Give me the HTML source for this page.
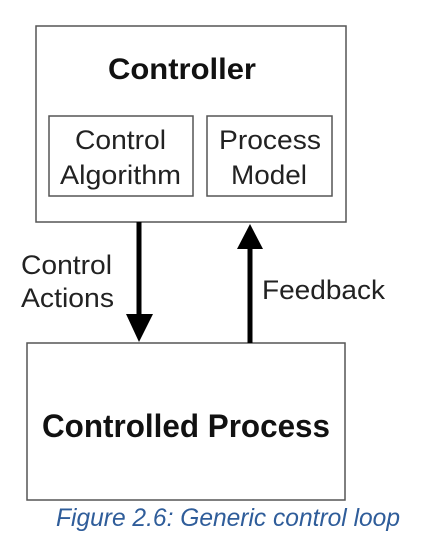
<!DOCTYPE html>
<html><head><style>
html,body{margin:0;padding:0;background:#fff;}
</style></head><body>
<svg width="425" height="542" xmlns="http://www.w3.org/2000/svg" font-family="Liberation Sans, Arial, sans-serif">
<rect x="36" y="26" width="310" height="196" fill="none" stroke="#555" stroke-width="1.5"/>
<rect x="49" y="116" width="144" height="80" fill="none" stroke="#555" stroke-width="1.5"/>
<rect x="207" y="116" width="125" height="80" fill="none" stroke="#555" stroke-width="1.5"/>
<rect x="27" y="343" width="318" height="157" fill="none" stroke="#555" stroke-width="1.5"/>
<text x="108" y="79" font-size="30" font-weight="bold" fill="#111" textLength="148" lengthAdjust="spacingAndGlyphs">Controller</text>
<text x="75" y="149" font-size="27" fill="#222" textLength="91" lengthAdjust="spacingAndGlyphs">Control</text>
<text x="60" y="184" font-size="27" fill="#222" textLength="121" lengthAdjust="spacingAndGlyphs">Algorithm</text>
<text x="219" y="149" font-size="27" fill="#222" textLength="102" lengthAdjust="spacingAndGlyphs">Process</text>
<text x="231" y="184" font-size="27" fill="#222" textLength="76" lengthAdjust="spacingAndGlyphs">Model</text>
<line x1="139" y1="222" x2="139" y2="318" stroke="#000" stroke-width="5"/>
<polygon points="126,314 153,314 139,342" fill="#000"/>
<line x1="250" y1="246" x2="250" y2="343" stroke="#000" stroke-width="5"/>
<polygon points="237,249 263,249 250,224" fill="#000"/>
<text x="21" y="274" font-size="27" fill="#222" textLength="91" lengthAdjust="spacingAndGlyphs">Control</text>
<text x="21" y="307" font-size="27" fill="#222" textLength="93" lengthAdjust="spacingAndGlyphs">Actions</text>
<text x="262" y="299" font-size="27" fill="#222" textLength="123" lengthAdjust="spacingAndGlyphs">Feedback</text>
<text x="42" y="437" font-size="32" font-weight="bold" fill="#111" textLength="288" lengthAdjust="spacingAndGlyphs">Controlled Process</text>
<text x="56" y="526" font-size="25" font-style="italic" fill="#2f5d9a" textLength="344" lengthAdjust="spacingAndGlyphs">Figure 2.6: Generic control loop</text>
</svg>
</body></html>
